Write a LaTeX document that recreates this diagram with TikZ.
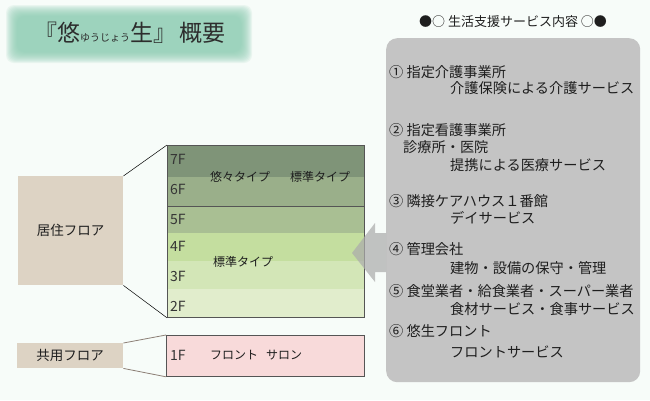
\documentclass[tikz,border=0pt]{standalone}
\usepackage{fontspec}
\setmainfont{Noto Sans CJK JP}
\definecolor{bg}{RGB}{247,252,249}
\definecolor{glow}{RGB}{140,205,178}
\definecolor{ttl}{RGB}{45,45,45}
\definecolor{panel}{RGB}{196,196,196}
\definecolor{arrowgray}{RGB}{172,172,172}
\definecolor{fseven}{RGB}{127,148,120}
\definecolor{fsix}{RGB}{154,175,138}
\definecolor{ffive}{RGB}{169,191,147}
\definecolor{ffour}{RGB}{196,222,159}
\definecolor{fthree}{RGB}{211,230,183}
\definecolor{ftwo}{RGB}{225,237,204}
\definecolor{pinkfill}{RGB}{248,218,218}
\definecolor{beige}{RGB}{221,211,196}
\definecolor{bord}{RGB}{85,85,85}
\definecolor{brownline}{RGB}{140,127,118}
\definecolor{txtc}{RGB}{30,30,30}
\begin{document}
\begin{tikzpicture}[x=1pt,y=-1pt,
  lbl/.style={inner sep=0pt, anchor=west, text=txtc, font=\fontsize{14.2}{14.2}\selectfont},
  fl/.style={inner sep=0pt, anchor=west, text=txtc!90, font=\fontsize{14}{14}\selectfont},
  small/.style={inner sep=0pt, anchor=west, text=txtc, font=\fontsize{12}{12}\selectfont},
  floorbox/.style={fill=beige, inner sep=0pt, anchor=north west, text=txtc, font=\fontsize{13.5}{13.5}\selectfont}]
\useasboundingbox (0,0) rectangle (650,400);
\fill[bg] (0,0) rectangle (650,400);
% title glow
\foreach \i in {0,...,11}
  \fill[glow, opacity=0.13, rounded corners=8] (6+\i,5+\i) rectangle (252-\i,63-\i);
\node[text=ttl, inner sep=0pt] (title) at (130,33)
  {{\fontsize{23}{23}\selectfont 『悠}{\fontsize{10}{10}\selectfont ゆうじょう}{\fontsize{23}{23}\selectfont 生』\hspace{4pt}概要}};
% header
\node[text=txtc, inner sep=0pt, font=\fontsize{13}{13}\selectfont] (hdr) at (513,22) {●○ 生活支援サービス内容 ○●};
% panel
\node[fill=panel, rounded corners=11, minimum width=254, minimum height=344, inner sep=0pt, anchor=north west] (panel) at (386,38) {};
% floors
\fill[fseven] (167,145) rectangle (364,177);
\fill[fsix] (167,177) rectangle (364,206);
\fill[ffive] (167,206) rectangle (364,233);
\fill[ffour] (167,233) rectangle (364,261);
\fill[fthree] (167,261) rectangle (364,289);
\fill[ftwo] (167,289) rectangle (364,317);
\node[draw=bord, line width=0.8pt, minimum width=197, minimum height=172, inner sep=0pt, anchor=north west] (block) at (167,145) {};
\draw[bord, line width=0.8pt] (block.west |- 0,206) coordinate (divl) -- (block.east |- 0,206) coordinate (divr);
\node[fl] (f7) at (170,159) {7F};
\node[fl] (f6) at (170,189) {6F};
\node[fl] (f5) at (170,219) {5F};
\node[fl] (f4) at (170,246) {4F};
\node[fl] (f3) at (170,276) {3F};
\node[fl] (f2) at (170,306) {2F};
\node[small] (yuyu) at (210,177) {悠々タイプ};
\node[small] (hyo1) at (290,177) {標準タイプ};
\node[small] (hyo2) at (213,262) {標準タイプ};
% 1F
\node[fill=pinkfill, draw=bord, line width=0.8pt, minimum width=198, minimum height=41, inner sep=0pt, anchor=north west] (first) at (166,335) {};
\node[fl] (f1) at (170,355) {1F};
\node[small] (front) at (210,355) {フロント\hspace{8pt}サロン};
% left boxes
\node[floorbox, minimum width=105, minimum height=109] (jukyo) at (18,176) {居住フロア};
\node[floorbox, minimum width=106, minimum height=25] (kyoyo) at (17,343) {共用フロア};
\draw[black, line width=0.5pt] (jukyo.north east) -- (block.north west);
\draw[black, line width=0.5pt] (jukyo.south east) -- (block.south west);
\draw[brownline, line width=0.8pt] (kyoyo.north east) -- (first.north west);
\draw[brownline, line width=0.8pt] (kyoyo.south east) -- (first.south west);
% arrow
\fill[arrowgray, fill opacity=0.72] (352,253) -- (375,223) -- (375,233) -- (386,233) -- (386,272) -- (375,272) -- (375,282) -- cycle;
% panel text
\node[lbl] (s1) at (389,72) {① 指定介護事業所};
\node[lbl] (s1b) at (450,88) {介護保険による介護サービス};
\node[lbl] (s2) at (389,130) {② 指定看護事業所};
\node[lbl] (s2b) at (403,147) {診療所・医院};
\node[lbl] (s2c) at (450,165) {提携による医療サービス};
\node[lbl] (s3) at (389,201) {③ 隣接ケアハウス１番館};
\node[lbl] (s3b) at (450,218) {デイサービス};
\node[lbl] (s4) at (389,249) {④ 管理会社};
\node[lbl] (s4b) at (450,268) {建物・設備の保守・管理};
\node[lbl] (s5) at (389,291) {⑤ 食堂業者・給食業者・スーパー業者};
\node[lbl] (s5b) at (450,309) {食材サービス・食事サービス};
\node[lbl] (s6) at (389,331) {⑥ 悠生フロント};
\node[lbl] (s6b) at (450,352) {フロントサービス};
\end{tikzpicture}
\end{document}
